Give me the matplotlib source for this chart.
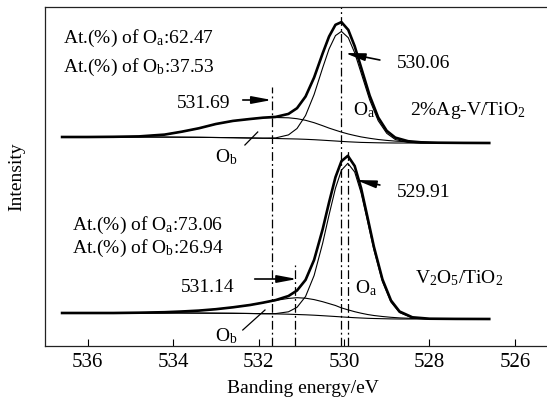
import matplotlib.pyplot as plt

plt.rcParams['font.family'] = 'Liberation Serif'
plt.rcParams['mathtext.fontset'] = 'custom'
plt.rcParams['mathtext.rm'] = 'Liberation Serif'
plt.rcParams['mathtext.it'] = 'Liberation Serif:italic'

# --- 2%Ag-V/TiO2 (upper spectrum), intensity in a.u. ---
be_top = [536.6, 536.0, 535.4, 534.8, 534.2, 533.8, 533.4, 533.0, 532.6, 532.2,
          531.9, 531.6, 531.3, 531.1, 530.9, 530.7, 530.5, 530.35, 530.2, 530.06,
          529.9, 529.75, 529.6, 529.4, 529.2, 529.0, 528.8, 528.5, 528.2, 527.8,
          527.2, 526.6]
raw_top = [209.0, 209.0, 209.2, 209.6, 211.4, 214.3, 217.7, 222.0, 225.1, 227.0,
           228.3, 229.1, 232.1, 237.8, 249.5, 268.5, 292.6, 309.5, 321.2, 323.9,
           316.1, 299.8, 278.6, 250.5, 228.6, 215.2, 208.4, 204.8, 203.7, 203.3,
           203.1, 203.0]
oa_top = [209.0, 209.0, 209.0, 209.0, 208.9, 208.8, 208.7, 208.5, 208.3, 208.0,
          207.8, 208.1, 211.1, 217.5, 230.5, 251.5, 278.1, 297.0, 310.4, 314.6,
          308.3, 293.2, 273.1, 246.2, 225.3, 212.7, 206.5, 203.6, 203.0, 203.0,
          203.0, 203.0]
ob_top = [209.0, 209.0, 209.2, 209.6, 211.4, 214.3, 217.7, 222.0, 225.1, 227.0,
          228.3, 228.5, 228.2, 227.3, 225.7, 223.3, 220.3, 217.9, 215.8, 213.9,
          212.0, 210.5, 209.1, 207.7, 206.5, 205.6, 204.9, 204.2, 203.7, 203.3,
          203.1, 203.0]
bg_top = [209.0, 209.0, 209.0, 209.0, 208.9, 208.8, 208.7, 208.5, 208.3, 208.0,
          207.8, 207.5, 207.2, 207.0, 206.7, 206.3, 205.8, 205.4, 205.0, 204.6,
          204.2, 203.9, 203.6, 203.4, 203.2, 203.1, 203.0, 203.0, 203.0, 203.0,
          203.0, 203.0]

# --- V2O5/TiO2 (lower spectrum) ---
be_bot = [536.6, 536.0, 535.4, 534.8, 534.2, 533.8, 533.4, 533.0, 532.6, 532.2,
          531.9, 531.6, 531.3, 531.1, 530.9, 530.7, 530.5, 530.35, 530.2, 530.06,
          529.91, 529.75, 529.6, 529.45, 529.3, 529.1, 528.9, 528.7, 528.4, 528.0,
          527.4, 526.6]
raw_bot = [33.0, 33.0, 33.0, 33.3, 33.8, 34.5, 35.4, 36.8, 38.7, 41.0,
           43.3, 45.9, 50.0, 55.5, 66.1, 86.1, 116.7, 143.6, 168.8, 184.8,
           190.2, 180.0, 157.9, 128.8, 99.2, 66.6, 45.5, 34.5, 28.7, 27.3,
           27.1, 27.0]
oa_bot = [33.0, 33.0, 33.0, 33.0, 33.0, 33.0, 32.9, 32.8, 32.7, 32.5,
          32.3, 32.4, 34.2, 38.7, 49.5, 70.5, 102.7, 131.1, 157.8, 175.8,
          182.7, 174.0, 153.1, 125.0, 96.2, 64.4, 43.9, 33.4, 28.1, 27.0,
          27.0, 27.0]
ob_bot = [33.0, 33.0, 33.0, 33.3, 33.8, 34.5, 35.4, 36.8, 38.7, 41.0,
          43.3, 45.6, 47.6, 48.3, 47.8, 46.4, 44.3, 42.4, 40.5, 38.1,
          36.2, 34.3, 32.8, 31.5, 30.5, 29.5, 28.7, 28.1, 27.6, 27.3,
          27.1, 27.0]
bg_bot = [33.0, 33.0, 33.0, 33.0, 33.0, 33.0, 32.9, 32.8, 32.7, 32.5,
          32.3, 32.1, 31.8, 31.5, 31.2, 30.8, 30.3, 29.9, 29.5, 29.1,
          28.7, 28.3, 28.0, 27.7, 27.5, 27.3, 27.1, 27.0, 27.0, 27.0,
          27.0, 27.0]

# peak positions (eV) and how high their dash-dot markers reach
peak_pos = [531.69, 530.06, 529.91, 531.14]
peak_top = [259, 339, 196, 81]
ticks = [536, 534, 532, 530, 528, 526]

fig = plt.figure(figsize=(5.47, 3.97), dpi=100)
ax = fig.add_axes([45 / 547, 1 - 346 / 397, 516 / 547, 339 / 397])

for be, raw, oa, ob, bg in [(be_top, raw_top, oa_top, ob_top, bg_top),
                            (be_bot, raw_bot, oa_bot, ob_bot, bg_bot)]:
  ax.plot(be, bg, color='black', lw=0.8)
  ax.plot(be, ob, color='black', lw=0.8)
  ax.plot(be, oa, color='black', lw=0.8)
  ax.plot(be, raw, color='black', lw=1.9, solid_joinstyle='round')

for pos, top in zip(peak_pos, peak_top):
  ax.plot([pos, pos], [0, top], color='black', lw=0.9,
          linestyle=(0, (7, 2.5, 1.5, 2.5)))

arrow = dict(arrowstyle='-|>,head_length=0.85,head_width=0.16', color='black',
             lw=1.2, shrinkA=0, shrinkB=0, mutation_scale=14)
ax.annotate('', xy=(531.69, 246), xytext=(532.37, 246), arrowprops=arrow)
ax.annotate('', xy=(529.98, 293), xytext=(529.16, 286), arrowprops=arrow)
ax.annotate('', xy=(529.72, 166), xytext=(529.16, 161), arrowprops=arrow)
ax.annotate('', xy=(531.10, 67), xytext=(532.09, 67), arrowprops=arrow)

# pointer lines to O_b components
ax.plot([532.32, 532.02], [201, 214], color='black', lw=0.9)
ax.plot([532.37, 531.85], [16, 36], color='black', lw=0.9)

fs = 14
ax.text(536.59, 303, r'At.(%) of O$_\mathrm{a}$:62.47', fontsize=fs)
ax.text(536.59, 274, r'At.(%) of O$_\mathrm{b}$:37.53', fontsize=fs)
ax.text(536.37, 116, r'At.(%) of O$_\mathrm{a}$:73.06', fontsize=fs)
ax.text(536.37, 93, r'At.(%) of O$_\mathrm{b}$:26.94', fontsize=fs)
ax.text(532.67, 238, '531.69', fontsize=fs, ha='right')
ax.text(528.76, 278, '530.06', fontsize=fs)
ax.text(528.76, 149, '529.91', fontsize=fs)
ax.text(532.56, 54, '531.14', fontsize=fs, ha='right')
ax.text(529.79, 231, r'O$_\mathrm{a}$', fontsize=fs)
ax.text(529.75, 53, r'O$_\mathrm{a}$', fontsize=fs)
ax.text(533.03, 184, r'O$_\mathrm{b}$', fontsize=fs)
ax.text(533.03, 5, r'O$_\mathrm{b}$', fontsize=fs)
ax.text(528.46, 231, r'2%Ag-V/TiO$_\mathrm{2}$', fontsize=fs)
ax.text(528.34, 63, r'V$_\mathrm{2}$O$_\mathrm{5}$/TiO$_\mathrm{2}$', fontsize=fs)

ax.set_xlim(537.0, 524.92)
ax.set_ylim(0, 339)
ax.set_xticks(ticks)
ax.set_xticklabels([str(t) for t in ticks], fontsize=15)
ax.set_yticks([])
ax.tick_params(axis='x', direction='in', length=5, width=0.8, pad=5)
for s in ax.spines.values():
  s.set_linewidth(0.9)
  s.set_color('#222222')
ax.set_xlabel('Banding energy/eV', fontsize=14, labelpad=6)
ax.set_ylabel('Intensity', fontsize=14, labelpad=14)

fig.savefig('out.png', dpi=100)
